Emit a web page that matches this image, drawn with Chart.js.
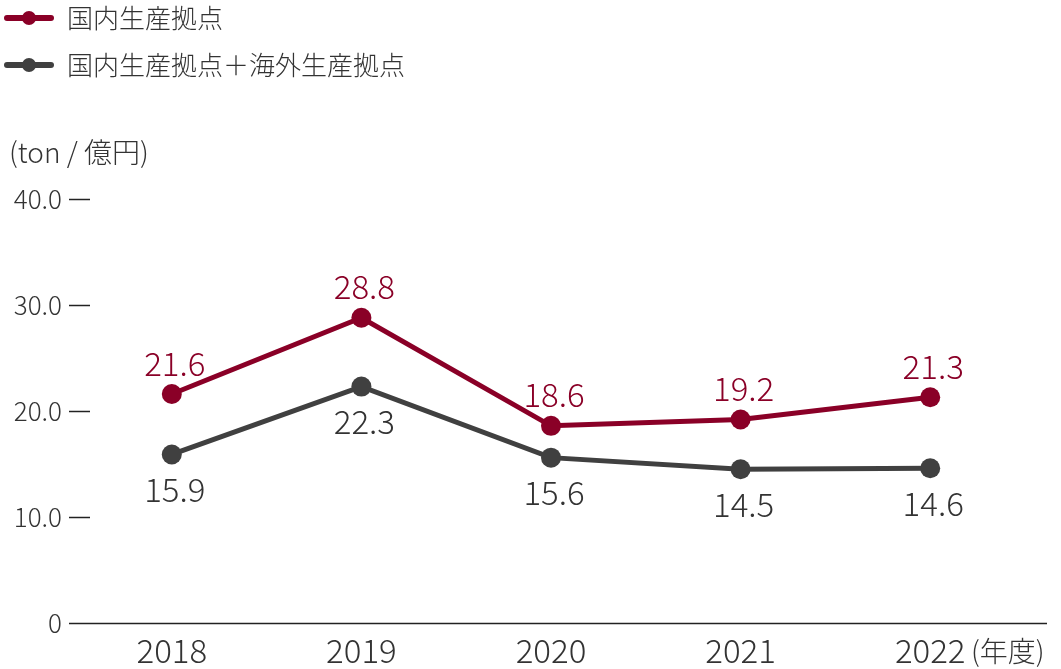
<!DOCTYPE html>
<html>
<head>
<meta charset="utf-8">
<script src="https://cdn.jsdelivr.net/npm/chart.js@4"></script>
<style>
  body { margin: 0; background: #fff; }
  #wrap { position: relative; width: 1061px; height: 669px; }
</style>
</head>
<body>
<div id="wrap"><canvas id="chart"></canvas></div>
<script>
var years = ['2018', '2019', '2020', '2021', '2022'];
var domestic = [21.6, 28.8, 18.6, 19.2, 21.3];
var total = [15.9, 22.3, 15.6, 14.5, 14.6];
var yTicks = [0, 10, 20, 30, 40];
var seriesNames = ['国内生産拠点', '国内生産拠点＋海外生産拠点'];

var RED = '#8a0027';
var GRAY = '#404040';
var TEXT = '#333';
var FONT = "'Noto Sans CJK JP', 'Noto Sans', sans-serif";

// baseline, tick dashes, legend, labels
var extras = {
    id: 'extras',
    beforeDatasetsDraw: function(chart) {
        var ctx = chart.ctx, area = chart.chartArea, y = chart.scales.y;
        ctx.save();
        ctx.strokeStyle = '#222';
        ctx.lineWidth = 1.5;
        yTicks.forEach(function(v) {
            var py = Math.round(y.getPixelForValue(v)) + 0.5;
            ctx.beginPath();
            ctx.moveTo(area.left - 8, py);
            ctx.lineTo(v === 0 ? area.right + 22 : area.left + 13, py);
            ctx.stroke();
        });
        ctx.restore();
    },
    afterDatasetsDraw: function(chart) {
        var ctx = chart.ctx, area = chart.chartArea;
        ctx.save();

        // point labels
        ctx.font = '300 33px ' + FONT;
        ctx.textAlign = 'center';
        ctx.textBaseline = 'middle';
        chart.data.datasets.forEach(function(ds, di) {
            var meta = chart.getDatasetMeta(di);
            ctx.fillStyle = di === 0 ? RED : TEXT;
            meta.data.forEach(function(pt, i) {
                var off = di === 0 ? -31 : 35;
                ctx.fillText(ds.data[i].toFixed(1), pt.x + 3, pt.y + off);
            });
        });

        // legend
        ctx.textAlign = 'left';
        ctx.font = '300 26px ' + FONT;
        chart.data.datasets.forEach(function(ds, di) {
            var ly = 18 + di * 47;
            ctx.strokeStyle = ds.borderColor;
            ctx.lineWidth = 6;
            ctx.lineCap = 'round';
            ctx.beginPath();
            ctx.moveTo(7, ly);
            ctx.lineTo(51, ly);
            ctx.stroke();
            ctx.fillStyle = ds.borderColor;
            ctx.beginPath();
            ctx.arc(29, ly, 7, 0, Math.PI * 2);
            ctx.fill();
            ctx.fillStyle = TEXT;
            ctx.fillText(ds.label, 67, ly);
        });

        // axis titles
        ctx.font = '300 28px ' + FONT;
        ctx.fillText('(ton / 億円)', 9, area.top - 47);
        ctx.fillText('(年度)', 971, area.bottom + 28);
        ctx.restore();
    }
};

var chart = new Chart(document.getElementById('chart').getContext('2d'), {
    type: 'line',
    data: {
        labels: years,
        datasets: [{
            label: seriesNames[0],
            data: domestic,
            borderColor: RED,
            backgroundColor: RED,
            borderWidth: 5,
            pointRadius: 10,
            pointBorderWidth: 0,
            tension: 0
        }, {
            label: seriesNames[1],
            data: total,
            borderColor: GRAY,
            backgroundColor: GRAY,
            borderWidth: 5,
            pointRadius: 10,
            pointBorderWidth: 0,
            tension: 0
        }]
    },
    options: {
        responsive: true,
        maintainAspectRatio: false,
        animation: false,
        layout: { padding: { top: 199, right: 36, left: 0, bottom: 0 } },
        plugins: {
            legend: { display: false },
            tooltip: { enabled: false }
        },
        scales: {
            x: {
                offset: true,
                grid: { display: false },
                border: { display: false },
                ticks: {
                    color: TEXT,
                    padding: 0,
                    font: { family: FONT, size: 33, weight: 300 }
                },
                afterFit: function(scale) { scale.height = 46; }
            },
            y: {
                min: 0,
                max: 40,
                grid: { display: false, drawTicks: false },
                border: { display: false },
                afterBuildTicks: function(scale) {
                    scale.ticks = yTicks.map(function(v) { return { value: v }; });
                },
                ticks: {
                    color: TEXT,
                    padding: 15,
                    font: { family: FONT, size: 26, weight: 300 },
                    callback: function(v) { return v === 0 ? '0' : v.toFixed(1); }
                },
                afterFit: function(scale) { scale.width = 77; }
            }
        }
    },
    plugins: [extras]
});
</script>
</body>
</html>
